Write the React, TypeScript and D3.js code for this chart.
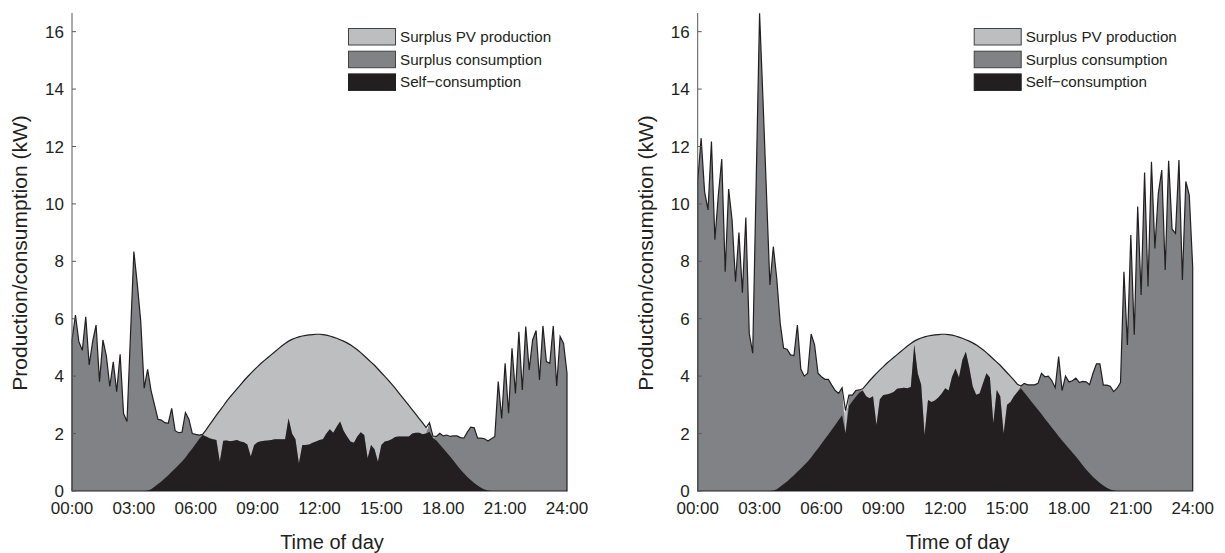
import React from "react";
import * as d3 from "d3";

// 10-minute steps, 00:00 .. 24:00 (145 points), kW
const pvProduction = [
  0, 0, 0, 0, 0, 0, 0, 0, 0, 0, 0, 0, 0, 0, 0, 0, 0, 0, 0, 0, 0, 0,
  0.02, 0.06, 0.15, 0.24, 0.33, 0.44, 0.55, 0.67,
  0.78, 0.91, 1.03, 1.17, 1.33, 1.48, 1.65, 1.81, 1.97, 2.13,
  2.3, 2.47, 2.64, 2.8, 2.96, 3.13, 3.28, 3.42, 3.56, 3.7,
  3.84, 3.97, 4.1, 4.22, 4.33, 4.45, 4.55, 4.65, 4.75, 4.85,
  4.95, 5.05, 5.14, 5.22, 5.28, 5.33, 5.37, 5.4, 5.42, 5.44,
  5.45, 5.46, 5.46, 5.45, 5.43, 5.4, 5.36, 5.32, 5.27, 5.22,
  5.16, 5.09, 5.01, 4.92, 4.82, 4.71, 4.6, 4.49, 4.38, 4.25,
  4.12, 3.99, 3.86, 3.72, 3.58, 3.43, 3.28, 3.13, 2.98, 2.83,
  2.68, 2.52, 2.37, 2.21, 2.06, 1.91, 1.76, 1.62, 1.48, 1.34,
  1.2, 1.05, 0.9, 0.75, 0.62, 0.49, 0.38, 0.28, 0.19, 0.11,
  0.05, 0.02,
  0, 0, 0, 0, 0, 0, 0, 0, 0, 0, 0, 0, 0, 0, 0, 0, 0, 0, 0, 0, 0, 0, 0,
];

const loadLeft = [
  5.26, 6.13, 5.2, 4.9, 6.07, 4.39, 5.2, 5.78, 3.81, 5.26,
  4.7, 3.64, 4.5, 3.46, 4.76, 2.7, 2.42, 5.4, 8.34, 7.2,
  5.9, 3.58, 4.24, 3.5, 3.0, 2.5, 2.47, 2.38, 2.36, 2.88,
  2.1, 2.03, 2.05, 2.73, 2.5, 2.0, 1.97, 1.95, 1.95, 1.9,
  1.84, 1.8, 1.78, 1.02, 1.75, 1.76, 1.73, 1.75, 1.78, 1.72,
  1.7, 1.62, 1.2, 1.6, 1.7, 1.73, 1.75, 1.76, 1.78, 1.8,
  1.8, 1.8, 1.8, 2.53, 2.0, 1.8, 0.96, 1.6, 1.6, 1.62,
  1.68, 1.72, 1.78, 1.8, 2.0, 2.15, 2.03, 2.24, 2.42, 2.1,
  1.9, 1.72, 1.68, 1.9, 2.05, 1.95, 1.14, 1.6, 1.45, 1.02,
  1.6, 1.72, 1.75, 1.8, 1.88, 1.9, 1.9, 1.9, 1.9, 2.0,
  2.03, 2.03, 1.98, 2.0, 2.38, 1.85, 1.9, 2.01, 1.92, 1.95,
  1.9, 1.92, 1.92, 1.86, 1.84, 2.05, 2.22, 2.2, 1.84, 1.84,
  1.82, 1.74, 1.82, 1.9, 3.81, 2.53, 4.45, 2.71, 4.97, 3.4,
  5.55, 3.52, 5.73, 4.22, 5.26, 5.59, 3.87, 5.75, 4.51, 4.45,
  5.75, 3.66, 5.38, 5.14, 4.1,
];

const loadRight = [
  10.8, 12.29, 10.43, 9.79, 12.17, 8.75, 10.3, 11.56, 7.64, 10.52,
  9.44, 7.29, 9.0, 6.91, 9.53, 5.49, 4.8, 10.7, 16.64, 13.6,
  10.4, 7.18, 8.51, 7.4, 5.84, 4.97, 4.94, 4.74, 4.72, 5.78,
  4.25, 4.0, 4.1, 5.47, 5.09, 4.1, 3.98, 3.89, 3.89, 3.69,
  3.5, 3.4, 3.6, 2.01, 3.34, 3.34, 3.5, 3.52, 3.5, 3.3,
  3.23, 3.3, 2.3, 3.2, 3.34, 3.36, 3.4, 3.45, 3.56, 3.58,
  3.6, 3.58, 3.62, 5.09, 4.1, 3.7, 1.95, 3.17, 3.1, 3.15,
  3.26, 3.4, 3.58, 3.5, 3.98, 4.27, 3.95, 4.56, 4.85, 4.3,
  3.64, 3.35, 3.4, 3.75, 4.1, 3.95, 2.36, 3.52, 3.3, 2.0,
  3.0, 3.1, 3.3, 3.45, 3.66, 3.75, 3.7, 3.7, 3.7, 3.75,
  4.1, 3.98, 4.0, 3.85, 3.6, 4.68, 3.5, 4.0, 3.8, 3.84,
  3.93, 3.78, 3.82, 3.8, 3.7, 4.1, 4.43, 4.43, 3.69, 3.69,
  3.65, 3.46, 3.58, 3.78, 7.64, 5.09, 8.92, 5.44, 9.91, 6.83,
  11.09, 7.12, 11.47, 8.45, 10.37, 11.18, 7.7, 11.5, 9.12, 8.97,
  11.53, 7.35, 10.78, 10.31, 7.8,
];

const timeTicks = [0, 3, 6, 9, 12, 15, 18, 21, 24];
const timeLabels = ["00:00", "03:00", "06:00", "09:00", "12:00", "15:00", "18.00", "21:00", "24:00"];
const kwTicks = [0, 2, 4, 6, 8, 10, 12, 14, 16];

const legendItems = [
  { label: "Surplus PV production", fill: "#bcbec0", stroke: "#414042" },
  { label: "Surplus consumption", fill: "#808285", stroke: "#414042" },
  { label: "Self\u2212consumption", fill: "#231f20", stroke: "#231f20" },
];

const FONT = "'Liberation Sans', Arial, Helvetica, sans-serif";
const INK = "#231f20";

function Panel({ x0, load }: { x0: number; load: number[] }) {
  const plotW = 495;
  const x = d3.scaleLinear().domain([0, 24]).range([x0, x0 + plotW]);
  const y = d3.scaleLinear().domain([0, 16.65]).range([491, 13]);
  const hour = (i: number) => i / 6;

  const selfUse = load.map((d, i) => Math.min(d, pvProduction[i]));
  const envelope = load.map((d, i) => Math.max(d, pvProduction[i]));

  const area = d3
    .area<number>()
    .x((_, i) => x(hour(i)))
    .y0(y(0))
    .y1((d) => y(d));

  return (
    <g>
      <path d={area(pvProduction) || ""} fill="#bcbec0" />
      <path d={area(load) || ""} fill="#808285" />
      <path d={area(selfUse) || ""} fill="#231f20" />
      <path d={area(envelope) || ""} fill="none" stroke={INK} strokeWidth={1.2} strokeLinejoin="miter" />

      {/* y axis */}
      <line x1={x0} x2={x0} y1={y(0)} y2={y.range()[1]} stroke="#58595b" strokeWidth={1} />
      {kwTicks.map((t) => (
        <g key={t}>
          <line x1={x0} x2={x0 + 4} y1={y(t)} y2={y(t)} stroke="#58595b" />
          <text x={x0 - 8} y={y(t)} dy="0.36em" textAnchor="end" fontSize={17} fill={INK}>
            {t}
          </text>
        </g>
      ))}

      {/* x tick labels */}
      {timeTicks.map((t, i) => (
        <text key={t} x={x(t)} y={514} textAnchor="middle" fontSize={17} fill={INK}>
          {timeLabels[i]}
        </text>
      ))}

      <text x={x(12) + 12.5} y={549} textAnchor="middle" fontSize={20} fill={INK}>
        Time of day
      </text>
      <text
        transform={`translate(${x0 - 45},253) rotate(-90)`}
        textAnchor="middle"
        fontSize={21}
        fill={INK}
      >
        Production/consumption (kW)
      </text>

      {/* legend */}
      {legendItems.map((it, i) => (
        <g key={it.label} transform={`translate(${x0 + 276},${28 + i * 22.7})`}>
          <rect x={0.5} y={0.5} width={47} height={16.5} fill={it.fill} stroke={it.stroke} />
          <text x={52} y={14} fontSize={15.2} fill={INK}>
            {it.label}
          </text>
        </g>
      ))}
    </g>
  );
}

export default function App() {
  return (
    <svg
      width={1225}
      height={553}
      style={{ position: "absolute", left: 0, top: 0, background: "#fff" }}
      fontFamily={FONT}
    >
      <Panel x0={72} load={loadLeft} />
      <Panel x0={697.7} load={loadRight} />
    </svg>
  );
}
